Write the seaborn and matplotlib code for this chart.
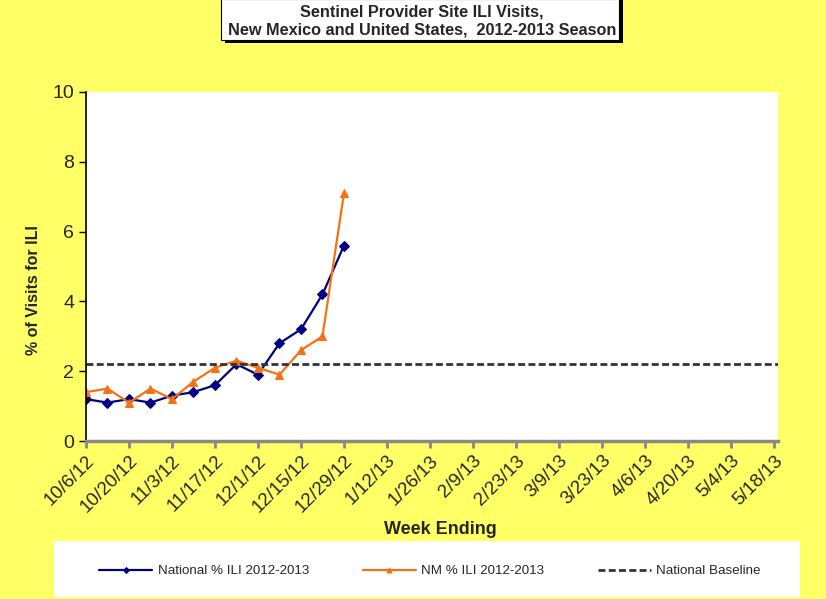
import pandas as pd
import matplotlib
matplotlib.use("Agg")
import matplotlib.pyplot as plt
from matplotlib.patches import Rectangle
import seaborn as sns

# Datos
semanas = ['10/6/12', '10/13/12', '10/20/12', '10/27/12', '11/3/12', '11/10/12', '11/17/12',
           '11/24/12', '12/1/12', '12/8/12', '12/15/12', '12/22/12', '12/29/12']
nacional = [1.2, 1.1, 1.2, 1.1, 1.3, 1.4, 1.6, 2.2, 1.9, 2.8, 3.2, 4.2, 5.6]
nm = [1.4, 1.5, 1.1, 1.5, 1.2, 1.7, 2.1, 2.3, 2.1, 1.9, 2.6, 3.0, 7.1]
linea_base = 2.2

etiquetas = ['National % ILI 2012-2013', 'NM % ILI 2012-2013', 'National Baseline']
titulo = 'Sentinel Provider Site ILI Visits,\nNew Mexico and United States,  2012-2013 Season'

fechas = pd.to_datetime(semanas, format='%m/%d/%y')
datos = pd.DataFrame({'fecha': fechas, 'nacional': nacional, 'nm': nm})

sns.set_style('white')
plt.rcParams['font.family'] = ['Liberation Sans', 'DejaVu Sans']

amarillo = '#FFFF66'
fig = plt.figure(figsize=(8.26, 5.99), dpi=100, facecolor=amarillo)
ax = fig.add_axes([86 / 826, 1 - 441 / 599, (778 - 86) / 826, (441 - 92) / 599])
ax.set_facecolor('white')

sns.lineplot(data=datos, x='fecha', y='nacional', ax=ax, color='#000080', marker='D',
             markersize=5, markeredgecolor='#000080', linewidth=1.6, label=etiquetas[0])
sns.lineplot(data=datos, x='fecha', y='nm', ax=ax, color='#F47216', marker='^',
             markersize=6, markeredgecolor='#F47216', linewidth=1.6, label=etiquetas[1])
ax.axhline(linea_base, color='#333333', linestyle=(0, (2.5, 1.2)), linewidth=2, label=etiquetas[2])

inicio = pd.Timestamp('2012-10-06')
fin = pd.Timestamp('2013-05-19 08:00')
ax.set_xlim(inicio, fin)
ax.set_ylim(0, 10)
ax.set_yticks(range(0, 11, 2))

ticks = pd.date_range(inicio, '2013-05-18', freq='14D')
ax.set_xticks(ticks)
ax.set_xticklabels([f'{d.month}/{d.day}/{d.strftime("%y")}' for d in ticks],
                   rotation=45, ha='right', rotation_mode='anchor', fontsize=13.5)
ax.tick_params(axis='y', labelsize=14, length=5, width=1, direction='out', color='black', left=True)
ax.tick_params(axis='x', length=5, width=2, direction='out', color='#888888', bottom=True, pad=3)

for lado in ['top', 'right']:
    ax.spines[lado].set_visible(False)
ax.spines['left'].set_color('black')
ax.spines['left'].set_linewidth(1.2)
ax.spines['bottom'].set_color('#888888')
ax.spines['bottom'].set_linewidth(2.5)

ax.set_xlabel('Week Ending', fontsize=13, fontweight='bold')
ax.set_ylabel('% of Visits for ILI', fontsize=11.5, fontweight='bold')
ax.xaxis.set_label_coords((440 - 86) / 692, (441 - 521) / 349)
ax.yaxis.set_label_coords((41 - 86) / 692, (441 - 290) / 349)

# Caja de leyenda
fig.patches.append(Rectangle((54 / 826, 1 - 597 / 599), 746 / 826, 56 / 599,
                             transform=fig.transFigure, facecolor='white', edgecolor='none', zorder=0))
h, l = ax.get_legend_handles_labels()
ax.get_legend().remove()
fig.legend(h, l, loc='center', bbox_to_anchor=(430 / 826, 1 - 571 / 599), ncol=3, frameon=False,
           fontsize=9.6, handlelength=4.0, columnspacing=4.0, handletextpad=0.4, markerscale=0.6)

# Caja del titulo con sombra
fig.patches.append(Rectangle((225 / 826, 1 - 43 / 599), 398 / 826, 43 / 599,
                             transform=fig.transFigure, facecolor='black', edgecolor='none'))
fig.patches.append(Rectangle((221 / 826, 1 - 40 / 599), 398 / 826, 41 / 599,
                             transform=fig.transFigure, facecolor='white', edgecolor='black', linewidth=0.8))
fig.text(422 / 826, 1 - 21 / 599, titulo, ha='center', va='center', fontsize=11.7,
         fontweight='bold', linespacing=1.2)

fig.savefig('out.png', dpi=100, facecolor=amarillo)
